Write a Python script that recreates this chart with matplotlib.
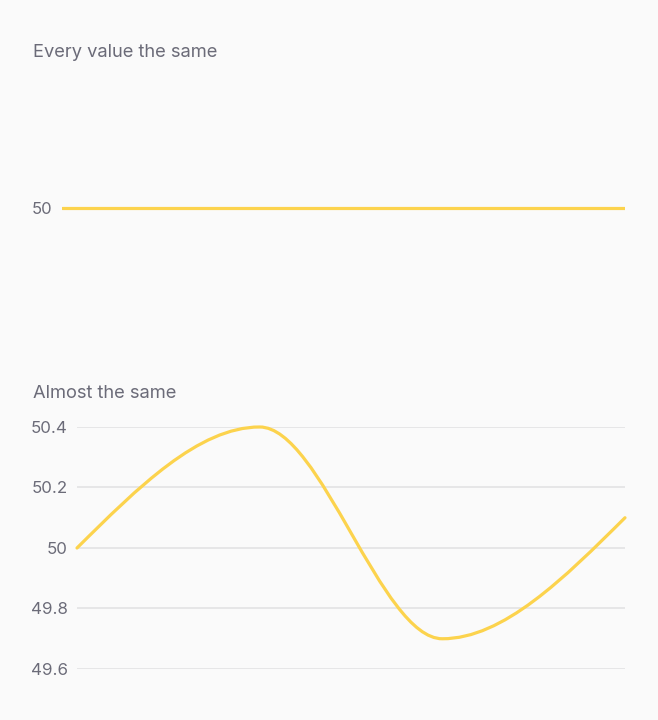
import numpy as np
import matplotlib.pyplot as plt
from matplotlib.path import Path
from matplotlib.patches import PathPatch

# === Data ===
x_idx = [0, 1, 2, 3]
same_values = [50, 50, 50, 50]
almost_values = [50.0, 50.4, 49.7, 50.1]
almost_ticks = [49.6, 49.8, 50.0, 50.2, 50.4]
almost_labels = ["49.6", "49.8", "50", "50.2", "50.4"]

BG = "#fafafa"
LINE = "#fcd34d"
TEXT = "#6b6b78"
GRID = "#e2e2e4"

plt.rcParams['font.family'] = ['Inter', 'DejaVu Sans']

W, H = 658, 720
fig = plt.figure(figsize=(W / 100, H / 100), dpi=100, facecolor=BG)


def frac(x0, y0, x1, y1):
    return [x0 / W, 1 - y1 / H, (x1 - x0) / W, (y1 - y0) / H]


def monotone_path(xs, ys):
    # cubic bezier segments with monotone-x tangents
    xs = np.asarray(xs, float)
    ys = np.asarray(ys, float)
    n = len(xs)
    t = np.zeros(n)
    for i in range(1, n - 1):
        h0, h1 = xs[i] - xs[i - 1], xs[i + 1] - xs[i]
        s0, s1 = (ys[i] - ys[i - 1]) / h0, (ys[i + 1] - ys[i]) / h1
        p = (s0 * h1 + s1 * h0) / (h0 + h1)
        t[i] = (np.sign(s0) + np.sign(s1)) * min(abs(s0), abs(s1), 0.5 * abs(p))
    t[0] = (3 * (ys[1] - ys[0]) / (xs[1] - xs[0]) - t[1]) / 2
    t[-1] = (3 * (ys[-1] - ys[-2]) / (xs[-1] - xs[-2]) - t[-2]) / 2
    verts = [(xs[0], ys[0])]
    codes = [Path.MOVETO]
    for i in range(n - 1):
        dx = (xs[i + 1] - xs[i]) / 3
        verts += [(xs[i] + dx, ys[i] + dx * t[i]),
                  (xs[i + 1] - dx, ys[i + 1] - dx * t[i + 1]),
                  (xs[i + 1], ys[i + 1])]
        codes += [Path.CURVE4] * 3
    return Path(verts, codes)


# === Top panel: every value the same ===
ax1 = fig.add_axes(frac(62, 90, 625, 326))
ax1.set_facecolor(BG)
ax1.plot(x_idx, same_values, color=LINE, lw=2.3, solid_capstyle='round')
ax1.set_xlim(0, 3)
ax1.set_ylim(49, 51)
ax1.set_yticks([50])
ax1.set_yticklabels(["50"])
ax1.set_xticks([])
ax1.tick_params(axis='y', length=0, pad=7, labelsize=12, labelcolor=TEXT)
for s in ax1.spines.values():
    s.set_visible(False)

# === Bottom panel: almost the same ===
ax2 = fig.add_axes(frac(77, 427, 625, 669))
ax2.set_facecolor(BG)
ax2.set_xlim(0, 3)
ax2.set_ylim(49.6, 50.4)
ax2.set_yticks(almost_ticks)
ax2.set_yticklabels(almost_labels)
ax2.set_xticks([])
ax2.grid(axis='y', color=GRID, lw=1.2)
ax2.set_axisbelow(True)
ax2.tick_params(axis='y', length=0, pad=6.5, labelsize=12.2, labelcolor=TEXT)
for s in ax2.spines.values():
    s.set_visible(False)
patch = PathPatch(monotone_path(x_idx, almost_values), facecolor='none',
                  edgecolor=LINE, lw=2.3, capstyle='round', clip_on=False, zorder=3)
ax2.add_patch(patch)

fig.text(33 / W, 1 - 57 / H, "Every value the same", fontsize=13.2, color=TEXT, va='baseline')
fig.text(33 / W, 1 - 398 / H, "Almost the same", fontsize=13.2, color=TEXT, va='baseline')

fig.savefig("out.png", dpi=100, facecolor=BG)
